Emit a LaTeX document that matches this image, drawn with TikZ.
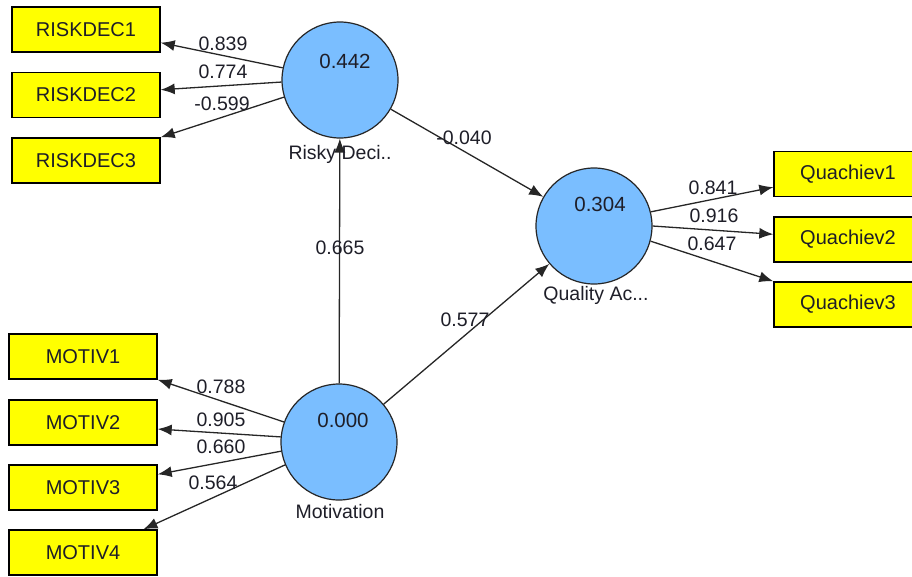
\documentclass[tikz,border=0pt]{standalone}
\usepackage{fontspec}
\setmainfont{Liberation Sans}
\usetikzlibrary{arrows.meta}
\definecolor{boxyellow}{RGB}{255,255,0}
\definecolor{lvblue}{RGB}{122,190,255}
\definecolor{txt}{RGB}{30,30,40}
\tikzset{
  ind/.style={draw=black, line width=1.4pt, fill=boxyellow, minimum width=148pt, minimum height=45pt, inner sep=0pt, font=\fontsize{20}{22}\selectfont, text=txt},
  lv/.style={draw=black!85, line width=1.2pt, fill=lvblue, circle, minimum size=116pt, inner sep=0pt},
  val/.style={font=\fontsize{20.5}{22}\selectfont, text=txt, inner sep=0pt},
  lname/.style={font=\fontsize{19.5}{22}\selectfont, text=txt, inner sep=0pt},
  wt/.style={font=\fontsize{19.5}{22}\selectfont, text=txt, inner sep=0pt},
  con/.style={draw=black!85, line width=1.3pt, -{Latex[length=14pt,width=11pt]}}
}
\begin{document}
\begin{tikzpicture}[x=1pt,y=-1pt]
\useasboundingbox (0,0) rectangle (912,576);
% latent variables
\node[lv] (risky) at (340,80) {};
\node[lv] (qual) at (594,226) {};
\node[lv] (mot) at (339,442) {};
\node[val] (vrisky) at (345,61) {0.442};
\node[val] (vqual) at (600,204) {0.304};
\node[val] (vmot) at (343,420) {0.000};
% indicators
\node[ind] (r1) at (86,29.5) {RISKDEC1};
\node[ind] (r2) at (86,95) {RISKDEC2};
\node[ind] (r3) at (86,160.5) {RISKDEC3};
\node[ind] (m1) at (83,356.5) {MOTIV1};
\node[ind] (m2) at (83,422.5) {MOTIV2};
\node[ind] (m3) at (83,487.5) {MOTIV3};
\node[ind] (m4) at (83,552.5) {MOTIV4};
\node[ind] (q1) at (848,174) {Quachiev1};
\node[ind] (q2) at (848,239.5) {Quachiev2};
\node[ind] (q3) at (848,304.5) {Quachiev3};
% connectors
\draw[con] (risky.168) -- (r1.-10);
\draw[con] (risky.182) -- (r2.4);
\draw[con] (risky.197) -- (r3.north east);
\draw[con] (mot.160) -- (m1.south east);
\draw[con] (mot.175) -- (m2.-5);
\draw[con] (mot.189) -- (m3.10);
\draw[con] (mot.203) -- (m4.21.5);
\draw[con] (qual.14) -- (q1.190);
\draw[con] (qual.0) -- (q2.176.5);
\draw[con] (qual.-15) -- (q3.north west);
\draw[con] (mot) -- (risky);
\draw[con] (risky) -- (qual);
\draw[con] (mot) -- (qual);
% names under circles
\node[lname] (nrisky) at (340,154) {Risky Deci..};
\node[lname] (nqual) at (596,295) {Quality Ac...};
\node[lname] (nmot) at (340,512) {Motivation};
% weights
\node[wt] (w1) at (223,44) {0.839};
\node[wt] (w2) at (223,72) {0.774};
\node[wt] (w3) at (222,104) {-0.599};
\node[wt] (w4) at (340,248) {0.665};
\node[wt] (w5) at (464,138) {-0.040};
\node[wt] (w6) at (465,320) {0.577};
\node[wt] (w7) at (221,387) {0.788};
\node[wt] (w8) at (221,420) {0.905};
\node[wt] (w9) at (221,447) {0.660};
\node[wt] (w10) at (213,483) {0.564};
\node[wt] (w11) at (713,188) {0.841};
\node[wt] (w12) at (714,216) {0.916};
\node[wt] (w13) at (712,244) {0.647};
\end{tikzpicture}
\end{document}
